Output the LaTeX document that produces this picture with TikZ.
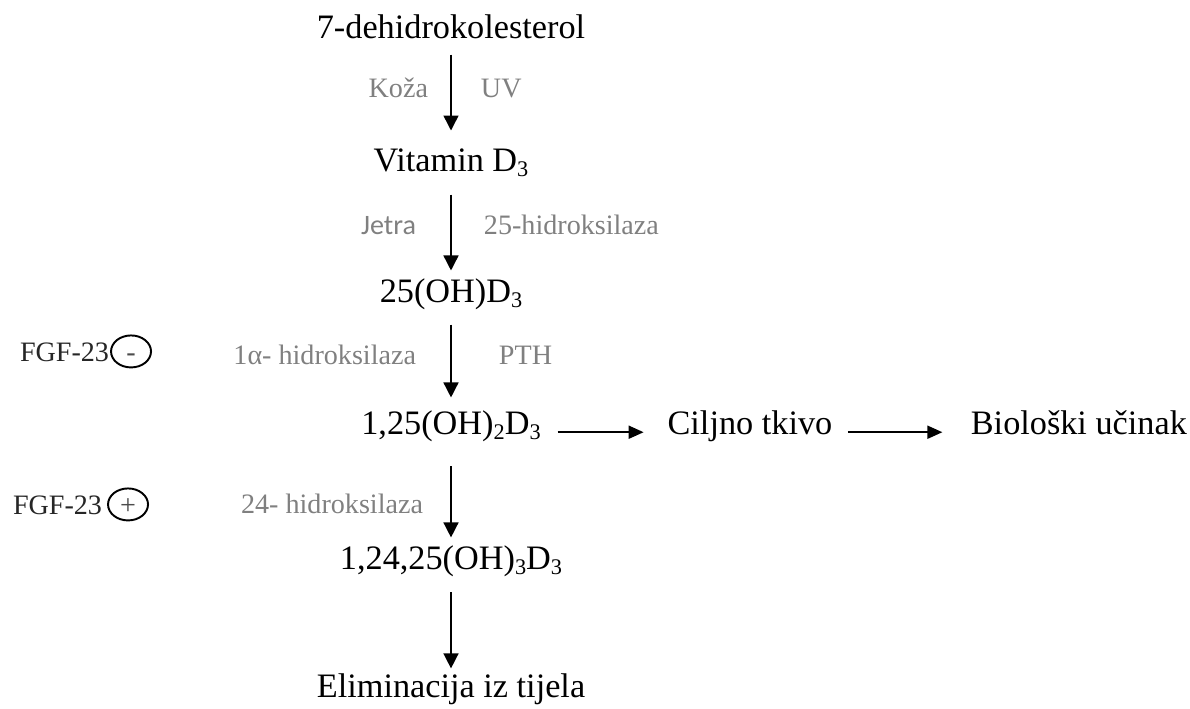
\documentclass[tikz,border=0pt]{standalone}
\usepackage{fontspec}
\setmainfont{Liberation Serif}
\newfontfamily\jetrafont{Carlito}
\usetikzlibrary{positioning,arrows.meta,shapes.geometric}
\newcommand{\lowsub}[1]{\raisebox{-0.12em}{\fontsize{12.7}{13}\selectfont #1}}
\newcommand{\signmark}[1]{\raisebox{-1.8pt}{#1}}
\tikzset{
    every node/.style={inner sep=0pt, outer sep=0pt},
    compound/.style={font=\fontsize{19.5}{23}\selectfont, text height=13.65pt, text depth=4.3pt, anchor=base},
    enzyme/.style={font=\fontsize{16}{19}\selectfont, text=black!50, text height=10.9pt, text depth=0pt},
    regulator/.style={font=\fontsize{16}{19}\selectfont, text=black!85, text height=10.9pt, text depth=0pt},
    sign/.style={draw, ellipse, line width=1.1pt, minimum width=0.8cm, minimum height=0.64cm, text=black!70, text height=7.4pt, text depth=0pt, font=\fontsize{16}{19}\selectfont},
    flow/.style={-{Triangle[length=0.3cm, width=0.3cm]}, line width=0.85pt, shorten <=0.3cm, shorten >=0.17cm},
    hflow/.style={-{Triangle[length=0.3cm, width=0.26cm]}, line width=1.1pt},
}

\begin{document}
\begin{tikzpicture}[x=0.02cm, y=-0.02cm]
   \useasboundingbox (0,0) rectangle (1190,708);
% main chain, one compound below the other
   \node[compound] (dhc) at (451,38) {7-dehidrokolesterol};
   \node[compound, below=2.68cm of dhc.base, anchor=base] (vitd) {Vitamin D\lowsub{3}};
   \node[compound, below=2.62cm of vitd.base, anchor=base] (ohd) {25(OH)D\lowsub{3}};
   \node[compound, below=2.64cm of ohd.base, anchor=base] (dihyd) {1,25(OH)\lowsub{2}D\lowsub{3}};
   \node[compound, below=2.70cm of dihyd.base, anchor=base] (trihyd) {1,24,25(OH)\lowsub{3}D\lowsub{3}};
   \node[compound, below=2.56cm of trihyd.base, anchor=base] (elim) {Eliminacija iz tijela};
% side branch to the right
   \node[compound, right=5.98cm of dihyd.base, anchor=base] (tkivo) {Ciljno tkivo};
   \node[compound, right=6.58cm of tkivo.base, anchor=base] (ucinak) {Biološki učinak};
% FGF-23 regulation
   \node[regulator, anchor=base west] (fgfa) at (20,361) {FGF-23};
   \node[sign, right=0.04cm of fgfa] (fgfminus) {\signmark{-}};
   \node[regulator, anchor=base west] (fgfb) at (13,514) {FGF-23};
   \node[sign, right=0.12cm of fgfb] (fgfplus) {\signmark{+}};
% steps
   \draw[flow, shorten <=0.18cm, shorten >=0.35cm] (dhc.south) --
      node[enzyme, pos=0.41, left=0.46cm] (koza) {Koža}
      node[enzyme, pos=0.41, right=0.6cm] (uv) {UV} (vitd.north);
   \draw[flow] (vitd.south) --
      node[enzyme, pos=0.46, left=0.7cm, font=\jetrafont\fontsize{16}{19}\selectfont] (jetra) {Jetra}
      node[enzyme, pos=0.46, right=0.66cm] (hid25) {25-hidroksilaza} (ohd.north);
   \draw[flow, shorten <=0.28cm, shorten >=0.27cm] (ohd.south) --
      node[enzyme, pos=0.445, left=0.7cm] (hid1a) {1α- hidroksilaza}
      node[enzyme, pos=0.445, right=0.96cm] (pth) {PTH} (dihyd.north);
   \draw[flow, shorten <=0.48cm] (dihyd.south) --
      node[enzyme, pos=0.59, left=0.56cm] (hid24) {24- hidroksilaza} (trihyd.north);
   \draw[flow, shorten >=0.11cm] (trihyd.south) -- (elim.north);
   \draw[hflow, shorten <=0.34cm, shorten >=0.48cm] ([yshift=-0.11cm]dihyd.east) -- ([yshift=-0.11cm]tkivo.west);
   \draw[hflow, shorten <=0.31cm, shorten >=0.57cm] ([yshift=-0.11cm]tkivo.east) -- ([yshift=-0.11cm]ucinak.west);
\end{tikzpicture}
\end{document}
